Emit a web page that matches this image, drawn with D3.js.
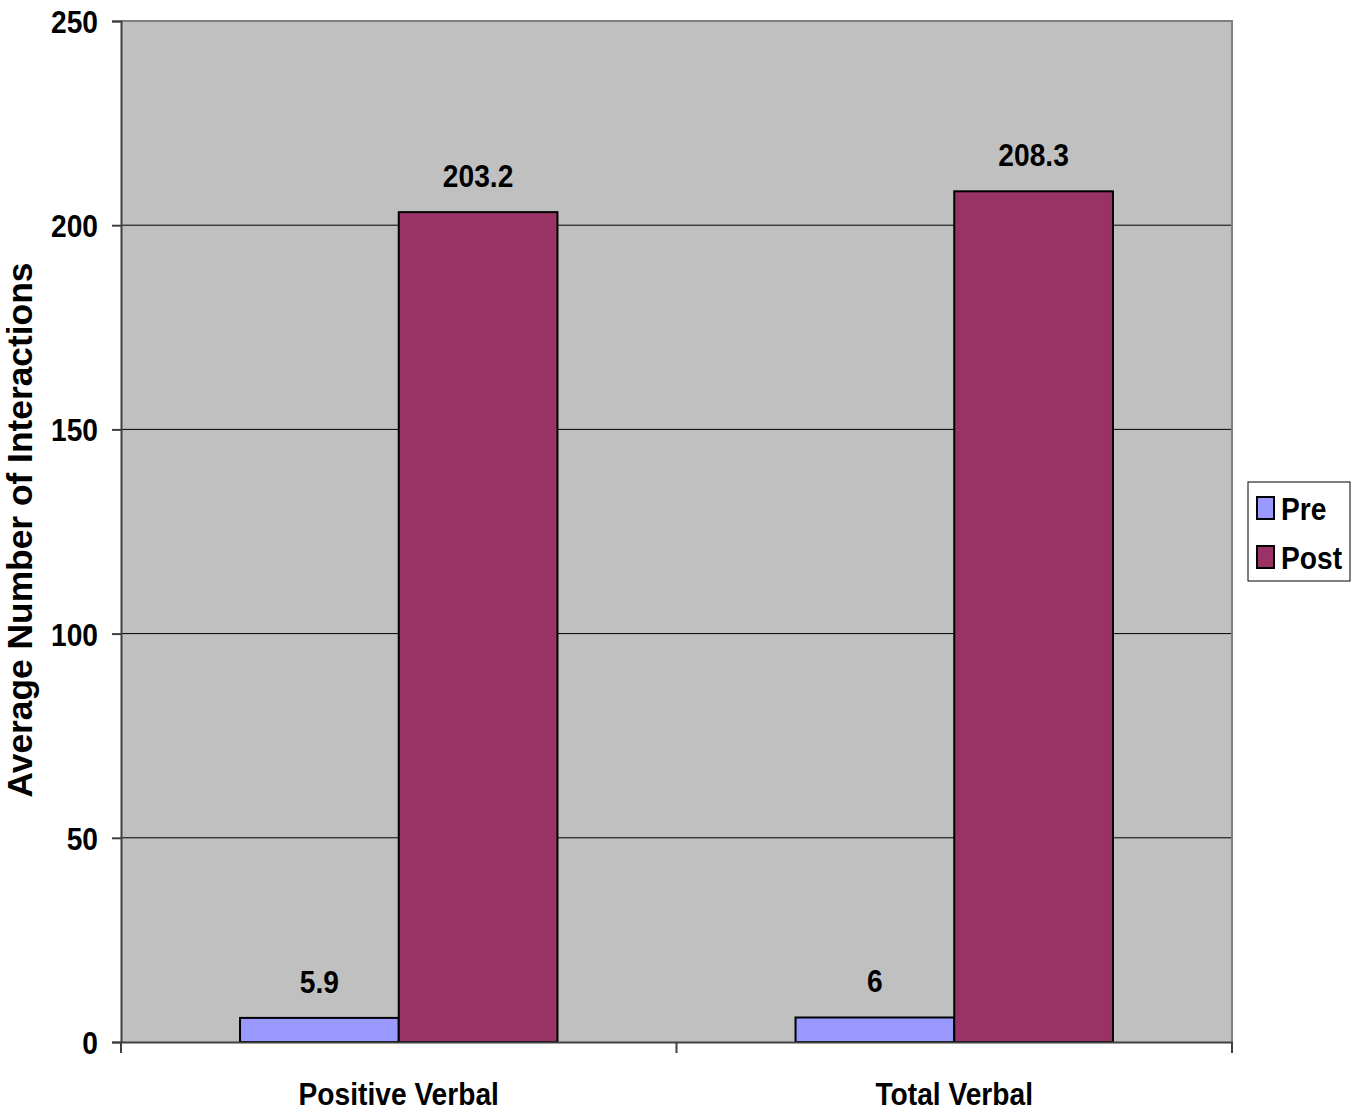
<!DOCTYPE html>
<html>
<head>
<meta charset="utf-8">
<script src="https://cdn.jsdelivr.net/npm/d3@7"></script>
<style>
  html, body { margin: 0; padding: 0; background: #fff; }
  svg { display: block; }
  .narrow { font-family: "Liberation Sans Narrow", "Arial Narrow", "Liberation Sans", Arial, sans-serif; font-weight: bold; }
</style>
</head>
<body>
<svg id="chart" width="1360" height="1114"></svg>
<script>
// Chart data
const categories = ["Positive Verbal", "Total Verbal"];
const seriesNames = ["Pre", "Post"];
const preValues = [5.9, 6];
const postValues = [203.2, 208.3];
const yTicks = [0, 50, 100, 150, 200, 250];
const seriesColors = ["#9999FF", "#993366"];

const rows = categories.map((c, i) => ({ category: c, values: [preValues[i], postValues[i]] }));

const svg = d3.select("#chart");
const plot = { left: 121, top: 21, right: 1232, bottom: 1042 };

// condense bold text horizontally so it reads like a narrow face
function condense(sel, factor = 0.88) {
  sel.each(function () {
    const len = this.getComputedTextLength();
    this.setAttribute("textLength", len * factor);
    this.setAttribute("lengthAdjust", "spacingAndGlyphs");
  });
}

const x = d3.scaleBand().domain(categories).range([plot.left, plot.right]).padding(0);
// gap width 150%: each group is 2 bars wide with 0.75 bar of space on either side
const xs = d3.scaleBand().domain(seriesNames).range([0, x.bandwidth()]).paddingInner(0).paddingOuter(0.75);
const y = d3.scaleLinear().domain([0, 250]).range([plot.bottom, plot.top]);

// plot background
svg.append("rect")
  .attr("x", plot.left).attr("y", plot.top)
  .attr("width", plot.right - plot.left).attr("height", plot.bottom - plot.top)
  .attr("fill", "#C0C0C0");

// gridlines
svg.append("g")
  .selectAll("line")
  .data(yTicks.filter(t => t > 0 && t < 250))
  .join("line")
  .attr("x1", plot.left).attr("x2", plot.right)
  .attr("y1", d => y(d)).attr("y2", d => y(d))
  .attr("stroke", "#000").attr("stroke-width", 1);

// top and right frame
svg.append("path")
  .attr("d", `M${plot.left},${plot.top}H${plot.right}V${plot.bottom}`)
  .attr("fill", "none").attr("stroke", "#808080").attr("stroke-width", 2);

// bars
const groups = svg.append("g").selectAll("g")
  .data(rows)
  .join("g")
  .attr("transform", d => `translate(${x(d.category)},0)`);

groups.selectAll("rect")
  .data(d => d.values.map((v, i) => ({ key: seriesNames[i], value: v, i })))
  .join("rect")
  .attr("x", d => xs(d.key))
  .attr("y", d => y(d.value))
  .attr("width", xs.bandwidth())
  .attr("height", d => y(0) - y(d.value))
  .attr("fill", d => seriesColors[d.i])
  .attr("stroke", "#000")
  .attr("stroke-width", 2);

// value labels
groups.selectAll("text")
  .data(d => d.values.map((v, i) => ({ key: seriesNames[i], value: v })))
  .join("text")
  .attr("class", "narrow")
  .attr("x", d => xs(d.key) + xs.bandwidth() / 2)
  .attr("y", d => y(d.value) - 25)
  .attr("text-anchor", "middle")
  .attr("font-size", 32)
  .attr("fill", "#000")
  .text(d => String(d.value))
  .call(condense);

// y axis
const yAxis = svg.append("g")
  .attr("transform", `translate(${plot.left},0)`)
  .call(d3.axisLeft(y).tickValues(yTicks).tickSize(9).tickPadding(14).tickFormat(d3.format("d")));
yAxis.select(".domain").attr("stroke", "#404040").attr("stroke-width", 2);
yAxis.selectAll(".tick line").attr("stroke", "#404040").attr("stroke-width", 2);
yAxis.selectAll(".tick text")
  .attr("class", "narrow")
  .attr("font-size", 32)
  .attr("fill", "#000")
  .attr("dy", "0.36em")
  .call(condense);

// x axis
const xAxis = svg.append("g")
  .attr("transform", `translate(0,${plot.bottom})`)
  .call(d3.axisBottom(x).tickSize(0).tickPadding(40));
xAxis.select(".domain").attr("stroke", "#404040").attr("stroke-width", 2);
xAxis.selectAll(".tick text")
  .attr("class", "narrow")
  .attr("font-size", 32)
  .attr("fill", "#000")
  .attr("dy", "0.71em")
  .call(condense);
// category boundary ticks
xAxis.selectAll("line.bound")
  .data([plot.left, x(categories[1]), plot.right])
  .join("line")
  .attr("class", "bound")
  .attr("x1", d => d).attr("x2", d => d)
  .attr("y1", 0).attr("y2", 11)
  .attr("stroke", "#404040").attr("stroke-width", 2);

// y axis title, fitted to span the plot height
const yTitle = svg.append("text")
  .attr("transform", `translate(32,${530}) rotate(-90)`)
  .attr("text-anchor", "middle")
  .attr("font-family", "Liberation Sans, Arial, sans-serif")
  .attr("font-weight", "bold")
  .attr("font-size", 28)
  .attr("fill", "#000")
  .text("Average Number of Interactions");
const titleLen = yTitle.node().getComputedTextLength();
yTitle.attr("font-size", 28 * 535 / titleLen);

// legend
const legend = svg.append("g").attr("transform", "translate(1248,482)");
legend.append("rect")
  .attr("x", 0).attr("y", 0).attr("width", 102).attr("height", 99)
  .attr("fill", "#fff").attr("stroke", "#000").attr("stroke-width", 1);
const items = legend.selectAll("g.item")
  .data(seriesNames)
  .join("g")
  .attr("class", "item")
  .attr("transform", (d, i) => `translate(0,${15 + i * 49})`);
items.append("rect")
  .attr("x", 9).attr("y", 0).attr("width", 17).attr("height", 22)
  .attr("fill", (d, i) => seriesColors[i])
  .attr("stroke", "#000").attr("stroke-width", 2);
items.append("text")
  .attr("class", "narrow")
  .attr("x", 33).attr("y", 23)
  .attr("font-size", 32)
  .attr("fill", "#000")
  .text(d => d)
  .call(condense);
</script>
</body>
</html>
